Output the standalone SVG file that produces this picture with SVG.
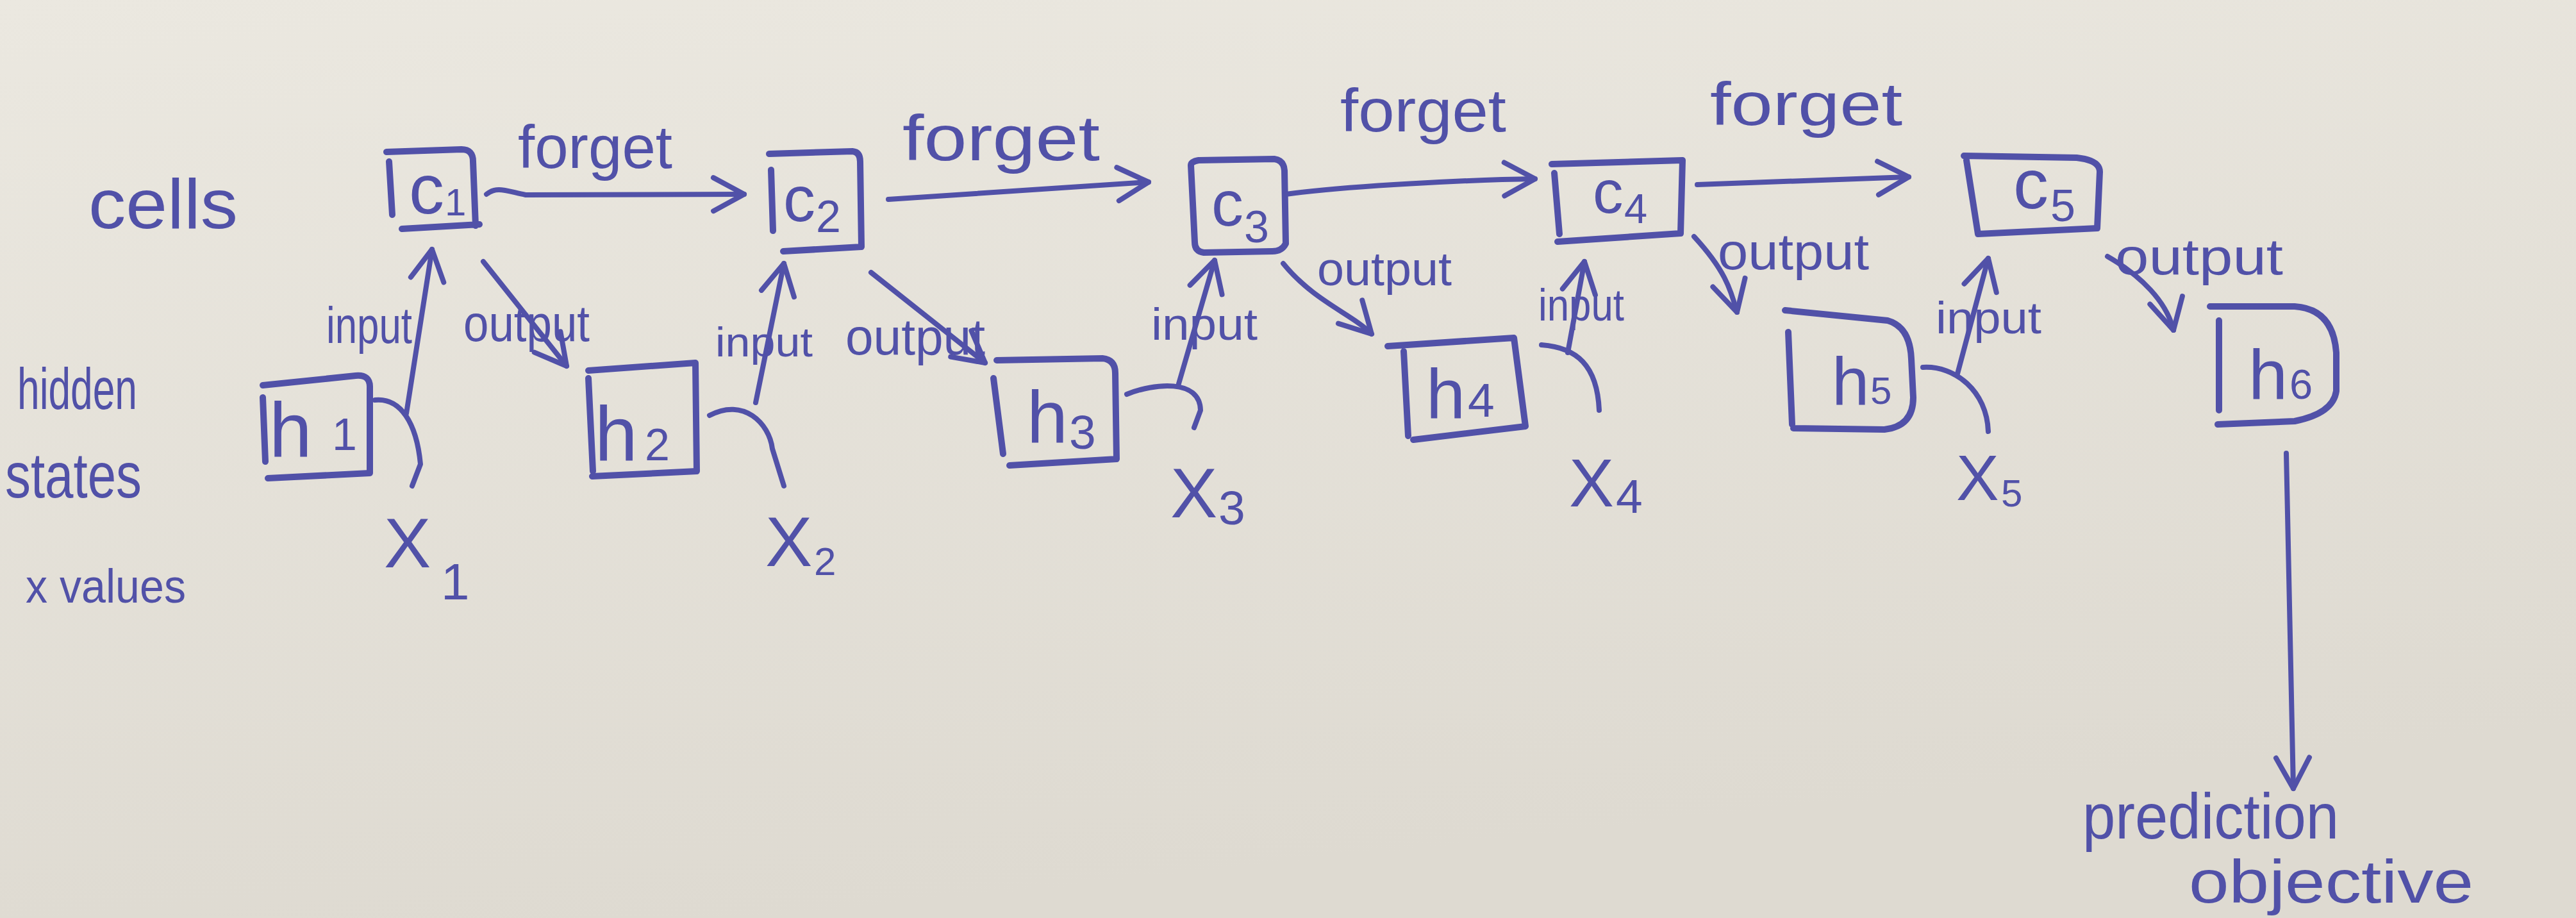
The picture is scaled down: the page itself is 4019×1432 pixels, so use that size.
<svg xmlns="http://www.w3.org/2000/svg" width="4019" height="1432" viewBox="0 0 4019 1432">
<defs>
<linearGradient id="paper" x1="0" y1="0" x2="0.3" y2="1">
<stop offset="0" stop-color="#ebe8e0"/>
<stop offset="1" stop-color="#dedad1"/>
</linearGradient>
<marker id="vee" markerUnits="userSpaceOnUse" markerWidth="120" markerHeight="120" viewBox="-60 -60 120 120" refX="0" refY="0" orient="auto">
<path d="M-48,-26 L0,0 L-48,26" fill="none" stroke="#5151a8" stroke-width="8" stroke-linecap="round" stroke-linejoin="round"/>
</marker>
<style>
.t{font-family:"Liberation Sans","DejaVu Sans",sans-serif;fill:#5151a8}
.box{fill:none;stroke:#5151a8;stroke-width:10;stroke-linecap:round;stroke-linejoin:round}
.ln{fill:none;stroke:#5151a8;stroke-width:8;stroke-linecap:round;stroke-linejoin:round}
.ar{marker-end:url(#vee)}
</style>
</defs>
<rect x="0" y="0" width="4019" height="1432" fill="url(#paper)"/>

<g id="row-labels">
<text class="t" x="138" y="356" font-size="110" textLength="233" lengthAdjust="spacingAndGlyphs">cells</text>
<text class="t" x="27" y="638" font-size="90" textLength="187" lengthAdjust="spacingAndGlyphs">hidden</text>
<text class="t" x="8" y="776" font-size="100" textLength="213" lengthAdjust="spacingAndGlyphs">states</text>
<text class="t" x="40" y="940" font-size="75" textLength="250" lengthAdjust="spacingAndGlyphs">x values</text>
</g>

<g id="c1"><path class="box" d="M603,237 L720,233 Q738,233 738,252 L742,352 M627,357 L748,350 M607,252 L612,335"/><text class="t" font-size="110"><tspan x="638" y="333">c</tspan><tspan x="694" y="336" font-size="60">1</tspan></text></g>
<g id="c2"><path class="box" d="M1200,240 L1330,236 Q1342,237 1342,252 L1344,385 L1222,392 M1203,265 L1206,360"/><text class="t" font-size="100"><tspan x="1222" y="345">c</tspan><tspan x="1273" y="362" font-size="70">2</tspan></text></g>
<g id="c3"><path class="box" d="M1858,258 Q1858,252 1870,250 L1988,248 Q2003,250 2004,266 L2006,380 Q2000,392 1985,392 L1878,394 Q1864,392 1864,378 Z"/><text class="t" font-size="100"><tspan x="1890" y="352">c</tspan><tspan x="1941" y="378" font-size="70">3</tspan></text></g>
<g id="c4"><path class="box" d="M2421,256 L2625,250 L2622,364 L2430,377 M2425,270 L2433,365"/><text class="t" font-size="95"><tspan x="2485" y="332">c</tspan><tspan x="2534" y="348" font-size="65">4</tspan></text></g>
<g id="c5"><path class="box" d="M3064,243 L3240,246 Q3276,250 3276,268 L3272,356 L3086,365 L3068,250"/><text class="t" font-size="110"><tspan x="3141" y="325">c</tspan><tspan x="3199" y="345" font-size="70">5</tspan></text></g>

<g id="h1"><path class="box" d="M410,601 L555,586 Q578,584 577,605 L577,738 L418,746 M410,620 L414,720"/><text class="t" font-size="120"><tspan x="420" y="712">h</tspan><tspan x="518" y="702" font-size="70">1</tspan></text></g>
<g id="h2"><path class="box" d="M918,578 L1085,566 L1087,735 L924,743 M918,590 L925,735"/><text class="t" font-size="120"><tspan x="928" y="718">h</tspan><tspan x="1006" y="718" font-size="70">2</tspan></text></g>
<g id="h3"><path class="box" d="M1555,562 L1720,559 Q1740,561 1740,582 L1742,716 L1575,726 M1550,590 L1565,708"/><text class="t" font-size="115"><tspan x="1602" y="690">h</tspan><tspan x="1668" y="700" font-size="75">3</tspan></text></g>
<g id="h4"><path class="box" d="M2165,540 L2362,527 L2380,665 L2205,686 M2190,548 L2197,680"/><text class="t" font-size="110"><tspan x="2225" y="652">h</tspan><tspan x="2290" y="650" font-size="75">4</tspan></text></g>
<g id="h5"><path class="box" d="M2785,484 L2945,500 Q2980,510 2982,560 L2985,620 Q2985,665 2940,670 L2798,668 M2790,518 L2796,662"/><text class="t" font-size="105"><tspan x="2858" y="632">h</tspan><tspan x="2918" y="630" font-size="60">5</tspan></text></g>
<g id="h6"><path class="box" d="M3448,478 L3580,478 Q3640,482 3645,550 L3645,610 Q3640,645 3580,657 L3460,662 M3462,500 L3462,640"/><text class="t" font-size="110"><tspan x="3508" y="622">h</tspan><tspan x="3572" y="622" font-size="65">6</tspan></text></g>

<g id="x1"><text class="t" font-size="110"><tspan x="599" y="885">X</tspan><tspan x="688" y="935" font-size="80">1</tspan></text></g>
<g id="x2"><text class="t" font-size="110"><tspan x="1194" y="883">X</tspan><tspan x="1270" y="897" font-size="62">2</tspan></text></g>
<g id="x3"><text class="t" font-size="110"><tspan x="1826" y="807">X</tspan><tspan x="1901" y="818" font-size="75">3</tspan></text></g>
<g id="x4"><text class="t" font-size="105"><tspan x="2448" y="790">X</tspan><tspan x="2521" y="800" font-size="75">4</tspan></text></g>
<g id="x5"><text class="t" font-size="100"><tspan x="3052" y="780">X</tspan><tspan x="3122" y="790" font-size="60">5</tspan></text></g>

<g id="target"><text class="t" font-size="100" x="3249" y="1308" textLength="400" lengthAdjust="spacingAndGlyphs">prediction</text><text class="t" font-size="95" x="3415" y="1408" textLength="444" lengthAdjust="spacingAndGlyphs">objective</text></g>

<g id="connectors">
<path class="ln ar" d="M759,303 C775,290 790,298 820,304 L1161,303"/>
<path class="ln ar" d="M1386,311 L1792,284"/>
<path class="ln ar" d="M2006,303 C2100,290 2300,280 2395,279"/>
<path class="ln ar" d="M2648,288 L2978,276"/>

<path class="ln ar" d="M634,645 L674,389"/>
<path class="ln" d="M585,624 C625,620 650,660 656,724 L643,758"/>
<path class="ln ar" d="M1179,628 L1223,411"/>
<path class="ln" d="M1107,648 C1160,620 1200,660 1205,700 L1223,758"/>
<path class="ln ar" d="M1838,602 L1895,406"/>
<path class="ln" d="M1758,615 C1800,598 1872,590 1873,640 L1863,667"/>
<path class="ln ar" d="M2446,550 L2472,408"/>
<path class="ln" d="M2405,538 C2460,542 2492,570 2495,640"/>
<path class="ln ar" d="M3054,583 L3102,403"/>
<path class="ln" d="M3000,573 C3050,570 3100,610 3102,673"/>

<path class="ln ar" d="M754,408 L884,571"/>
<path class="ln ar" d="M1359,425 L1537,566"/>
<path class="ln ar" d="M2002,411 C2050,470 2110,490 2140,521"/>
<path class="ln ar" d="M2643,369 C2690,420 2700,450 2710,487"/>
<path class="ln ar" d="M3288,400 C3340,430 3380,470 3391,515"/>

<path class="ln ar" d="M3567,707 L3578,1230"/>

<g id="connector-labels">
<text class="t" x="808" y="262" font-size="95" textLength="241" lengthAdjust="spacingAndGlyphs">forget</text>
<text class="t" x="1408" y="250" font-size="100" textLength="308" lengthAdjust="spacingAndGlyphs">forget</text>
<text class="t" x="2091" y="205" font-size="95" textLength="259" lengthAdjust="spacingAndGlyphs">forget</text>
<text class="t" x="2668" y="195" font-size="95" textLength="300" lengthAdjust="spacingAndGlyphs">forget</text>
<text class="t" x="509" y="535" font-size="80" textLength="134" lengthAdjust="spacingAndGlyphs">input</text>
<text class="t" x="1116" y="556" font-size="65" textLength="152" lengthAdjust="spacingAndGlyphs">input</text>
<text class="t" x="1796" y="530" font-size="70" textLength="166" lengthAdjust="spacingAndGlyphs">input</text>
<text class="t" x="2400" y="500" font-size="70" textLength="134" lengthAdjust="spacingAndGlyphs">input</text>
<text class="t" x="3020" y="520" font-size="70" textLength="165" lengthAdjust="spacingAndGlyphs">input</text>
<text class="t" x="723" y="532" font-size="80" textLength="197" lengthAdjust="spacingAndGlyphs">output</text>
<text class="t" x="1319" y="553" font-size="80" textLength="218" lengthAdjust="spacingAndGlyphs">output</text>
<text class="t" x="2055" y="445" font-size="75" textLength="210" lengthAdjust="spacingAndGlyphs">output</text>
<text class="t" x="2680" y="420" font-size="80" textLength="236" lengthAdjust="spacingAndGlyphs">output</text>
<text class="t" x="3300" y="428" font-size="80" textLength="262" lengthAdjust="spacingAndGlyphs">output</text>
</g>
</g>
</svg>
